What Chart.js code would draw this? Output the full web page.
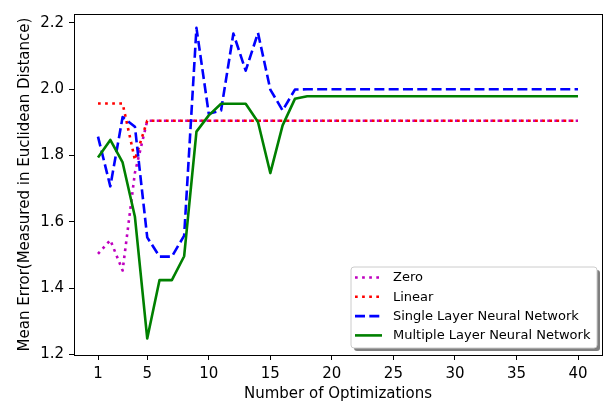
<!DOCTYPE html>
<html>
<head>
<meta charset="utf-8">
<script src="https://cdn.jsdelivr.net/npm/chart.js@4/dist/chart.umd.min.js"></script>
<style>
  html, body { margin: 0; padding: 0; background: #ffffff; }
  #c { display: block; }
</style>
</head>
<body>
<canvas id="c" width="607" height="407"></canvas>
<script>
// ---- data ----
const optimizations = Array.from({length: 40}, (_, i) => i + 1);
const xTickValues = [1, 5, 10, 15, 20, 25, 30, 35, 40];
const yTickValues = [1.2, 1.4, 1.6, 1.8, 2.0, 2.2];

const zeroErr = [1.503, 1.545, 1.453, 1.748, 1.905, 1.905, 1.905, 1.905, 1.905, 1.905,
  1.905, 1.905, 1.905, 1.905, 1.905, 1.905, 1.905, 1.905, 1.905, 1.905,
  1.905, 1.905, 1.905, 1.905, 1.905, 1.905, 1.905, 1.905, 1.905, 1.905,
  1.905, 1.905, 1.905, 1.905, 1.905, 1.905, 1.905, 1.905, 1.905, 1.905];
const linearErr = [1.957, 1.957, 1.957, 1.787, 1.905, 1.905, 1.905, 1.905, 1.905, 1.905,
  1.905, 1.905, 1.905, 1.905, 1.905, 1.905, 1.905, 1.905, 1.905, 1.905,
  1.905, 1.905, 1.905, 1.905, 1.905, 1.905, 1.905, 1.905, 1.905, 1.905,
  1.905, 1.905, 1.905, 1.905, 1.905, 1.905, 1.905, 1.905, 1.905, 1.905];
const singleErr = [1.857, 1.707, 1.916, 1.887, 1.553, 1.495, 1.495, 1.558, 2.185, 1.926,
  1.936, 2.168, 2.056, 2.170, 1.999, 1.936, 1.999, 2.0, 2.0, 2.0,
  2.0, 2.0, 2.0, 2.0, 2.0, 2.0, 2.0, 2.0, 2.0, 2.0,
  2.0, 2.0, 2.0, 2.0, 2.0, 2.0, 2.0, 2.0, 2.0, 2.0];
const multiErr = [1.794, 1.847, 1.779, 1.615, 1.248, 1.424, 1.424, 1.496, 1.872, 1.921,
  1.956, 1.956, 1.956, 1.901, 1.747, 1.891, 1.971, 1.979, 1.979, 1.979,
  1.979, 1.979, 1.979, 1.979, 1.979, 1.979, 1.979, 1.979, 1.979, 1.979,
  1.979, 1.979, 1.979, 1.979, 1.979, 1.979, 1.979, 1.979, 1.979, 1.979];

const seriesLabels = ['Zero', 'Linear', 'Single Layer Neural Network', 'Multiple Layer Neural Network'];
const xTitle = 'Number of Optimizations';
const yTitle = 'Mean Error(Measured in Euclidean Distance)';

const FONT = "'DejaVu Sans', sans-serif";

function pts(vals) { return vals.map((v, i) => ({x: optimizations[i], y: v})); }

const datasets = [
  {label: seriesLabels[0], data: pts(zeroErr), borderColor: '#bf00bf', borderDash: [2.7, 4.4], order: 4},
  {label: seriesLabels[1], data: pts(linearErr), borderColor: '#ff0000', borderDash: [2.7, 4.4], order: 3},
  {label: seriesLabels[2], data: pts(singleErr), borderColor: '#0000ff', borderDash: [10, 4.3], order: 2},
  {label: seriesLabels[3], data: pts(multiErr), borderColor: '#008000', borderDash: [], order: 1}
].map(d => Object.assign({
  borderWidth: 2.6, pointRadius: 0, pointHoverRadius: 0, fill: false, tension: 0,
  borderCapStyle: 'butt', borderJoinStyle: 'round'
}, d));

const framePlugin = {
  id: 'frame',
  afterDraw(chart) {
    const {ctx, chartArea: a} = chart;
    ctx.save();
    ctx.strokeStyle = '#000';
    ctx.lineWidth = 1;
    ctx.strokeRect(Math.round(a.left) + 0.5, Math.round(a.top) + 0.5,
      Math.round(a.right - a.left), Math.round(a.bottom - a.top));
    ctx.restore();
  }
};

function roundRect(ctx, x, y, w, h, r) {
  ctx.beginPath();
  ctx.moveTo(x + r, y);
  ctx.lineTo(x + w - r, y);
  ctx.quadraticCurveTo(x + w, y, x + w, y + r);
  ctx.lineTo(x + w, y + h - r);
  ctx.quadraticCurveTo(x + w, y + h, x + w - r, y + h);
  ctx.lineTo(x + r, y + h);
  ctx.quadraticCurveTo(x, y + h, x, y + h - r);
  ctx.lineTo(x, y + r);
  ctx.quadraticCurveTo(x, y, x + r, y);
  ctx.closePath();
}

const legendPlugin = {
  id: 'mplLegend',
  afterDraw(chart) {
    const {ctx} = chart;
    const bx = 351, by = 267, bw = 246, bh = 81;
    ctx.save();
    // shadow
    ctx.fillStyle = 'rgba(0,0,0,0.5)';
    roundRect(ctx, bx + 3, by + 3, bw, bh, 3);
    ctx.fill();
    // box
    ctx.fillStyle = '#ffffff';
    roundRect(ctx, bx, by, bw, bh, 3);
    ctx.fill();
    ctx.strokeStyle = '#cccccc';
    ctx.lineWidth = 1;
    ctx.stroke();
    ctx.font = "13px " + FONT;
    ctx.textBaseline = 'middle';
    ctx.textAlign = 'left';
    chart.data.datasets.forEach((ds, i) => {
      const cy = by + 10.5 + i * 19.3;
      ctx.strokeStyle = ds.borderColor;
      ctx.lineWidth = ds.borderWidth;
      ctx.setLineDash(ds.borderDash || []);
      ctx.lineCap = 'butt';
      ctx.beginPath();
      ctx.moveTo(bx + 4, cy);
      ctx.lineTo(bx + 31, cy);
      ctx.stroke();
      ctx.setLineDash([]);
      ctx.fillStyle = '#000';
      ctx.fillText(ds.label, bx + 42, cy + 0.5);
    });
    ctx.restore();
  }
};

new Chart(document.getElementById('c'), {
  type: 'line',
  data: {datasets},
  plugins: [framePlugin, legendPlugin],
  options: {
    responsive: false,
    devicePixelRatio: 1,
    animation: false,
    layout: {padding: {left: 0, right: 5, top: 10, bottom: 0}},
    plugins: {legend: {display: false}, tooltip: {enabled: false}},
    scales: {
      x: {
        type: 'linear', position: 'bottom', min: -0.95, max: 41.95,
        afterBuildTicks(scale) { scale.ticks = xTickValues.map(v => ({value: v})); },
        afterFit(scale) { scale.height = 52; },
        grid: {display: true, drawOnChartArea: false, drawTicks: true, tickLength: 5, color: '#000', lineWidth: 1},
        border: {display: true, color: '#000', width: 1},
        ticks: {color: '#000', font: {family: FONT, size: 15}, padding: 5, maxRotation: 0, autoSkip: false,
          callback: v => String(v)},
        title: {display: true, text: xTitle, color: '#000', font: {family: FONT, size: 15}, padding: {top: 0, bottom: 4}}
      },
      y: {
        type: 'linear', min: 1.198, max: 2.227,
        afterBuildTicks(scale) { scale.ticks = yTickValues.map(v => ({value: v})); },
        afterFit(scale) { scale.width = 74; },
        grid: {display: true, drawOnChartArea: false, drawTicks: true, tickLength: 5, color: '#000', lineWidth: 1},
        border: {display: true, color: '#000', width: 1},
        ticks: {color: '#000', font: {family: FONT, size: 15}, padding: 5, autoSkip: false,
          callback: v => Number(v).toFixed(1)},
        title: {display: true, text: yTitle, color: '#000', font: {family: FONT, size: 15}, padding: {top: 16, bottom: 0}}
      }
    }
  }
});
</script>
</body>
</html>
